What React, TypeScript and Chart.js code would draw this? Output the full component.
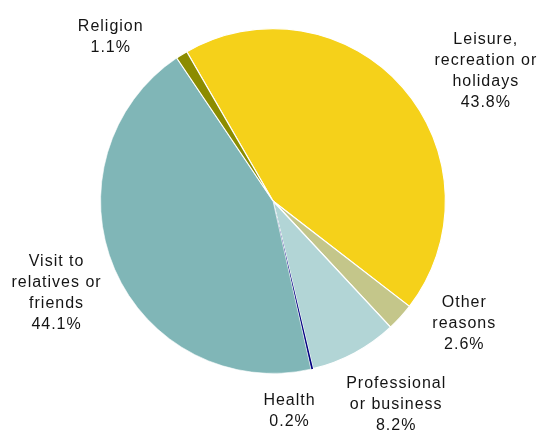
import React, { useEffect, useRef } from "react";
import { Chart, registerables } from "chart.js";

Chart.register(...registerables);

const CATEGORIES = [
  "Leisure, recreation or holidays",
  "Other reasons",
  "Professional or business",
  "Health",
  "Visit to relatives or friends",
  "Religion",
];
const LABEL_LINES = [
  ["Leisure,", "recreation or", "holidays"],
  ["Other", "reasons"],
  ["Professional", "or business"],
  ["Health"],
  ["Visit to", "relatives or", "friends"],
  ["Religion"],
];
const VALUES = [43.8, 2.6, 8.2, 0.2, 44.1, 1.1];
const COLORS = ["#F5D11A", "#C4C68A", "#B2D5D6", "#000080", "#80B6B7", "#8C8C00"];
const BORDER_WIDTHS = [1.2, 1.2, 1.2, 0, 0.6, 1.2];

// label placement: angle (deg, clockwise from top) and distance as a factor of the pie radius
const LABEL_ANGLE = [58.2, 122.5, 148.7, 175.6, 247.3, -44.5];
const LABEL_DIST = [1.449, 1.312, 1.37, 1.212, 1.364, 1.347];

const FONT_SIZE = 16;
const LINE_H = 21;

const labelPlugin = {
  id: "outerLabels",
  afterDatasetsDraw(chart: any) {
    const ctx = chart.ctx;
    const meta = chart.getDatasetMeta(0);
    ctx.save();
    ctx.font = `${FONT_SIZE}px "Liberation Sans", Arial, sans-serif`;
    (ctx as any).letterSpacing = "1px";
    ctx.fillStyle = "#141414";
    ctx.textAlign = "center";
    ctx.textBaseline = "alphabetic";
    meta.data.forEach((arc: any, i: number) => {
      const a = (LABEL_ANGLE[i] * Math.PI) / 180;
      const d = arc.outerRadius * LABEL_DIST[i];
      const cx = arc.x + Math.sin(a) * d;
      const cy = arc.y - Math.cos(a) * d;
      const lines = [...LABEL_LINES[i], `${VALUES[i].toFixed(1)}%`];
      const n = lines.length;
      lines.forEach((t, k) => {
        const ly = cy + (k - (n - 1) / 2) * LINE_H + FONT_SIZE * 0.716 / 2;
        ctx.fillText(t, cx + 0.5, ly);
      });
    });
    ctx.restore();
  },
};

export default function App() {
  const ref = useRef<HTMLCanvasElement>(null);
  useEffect(() => {
    document.body.style.margin = "0";
    const chart = new Chart(ref.current!, {
      type: "pie",
      data: {
        labels: CATEGORIES,
        datasets: [
          {
            data: VALUES,
            backgroundColor: COLORS,
            borderColor: "#ffffff",
            borderWidth: BORDER_WIDTHS,
          },
        ],
      },
      options: {
        responsive: false,
        animation: false,
        rotation: -30,
        layout: { padding: { left: 100, right: 91, top: 28, bottom: 56 } },
        plugins: {
          legend: { display: false },
          tooltip: { enabled: false },
        },
      },
      plugins: [labelPlugin],
    });
    return () => chart.destroy();
  }, []);
  return (
    <div style={{ width: 537, height: 430, background: "#fff" }}>
      <canvas ref={ref} width={537} height={430} />
    </div>
  );
}
